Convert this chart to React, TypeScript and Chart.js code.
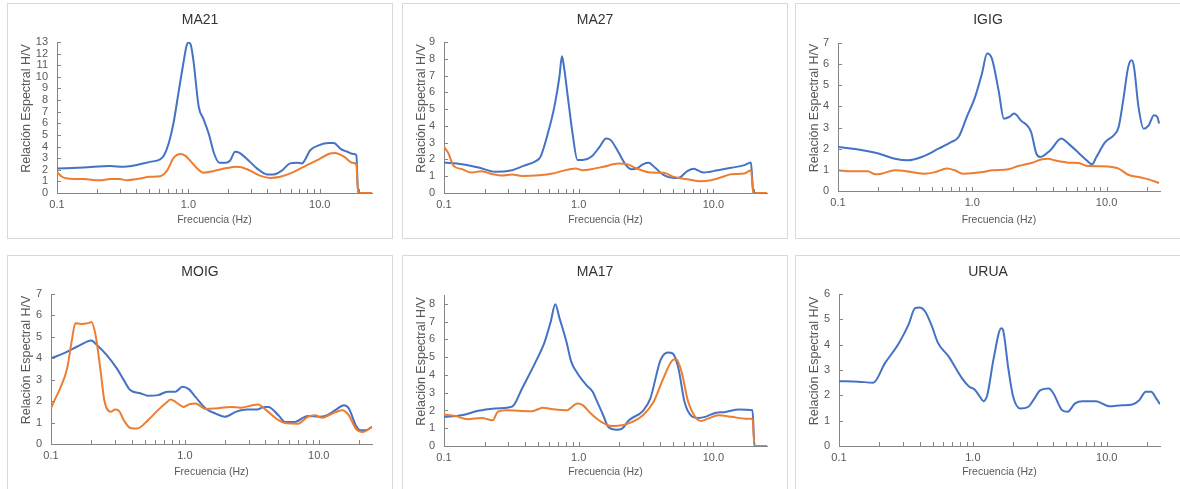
import React, { useEffect, useRef } from 'react';
import { Chart, registerables } from 'chart.js';

Chart.register(...registerables);

const BLUE = '#4472C4';
const ORANGE = '#ED7D31';
const AXIS = '#858585';
const TEXT = '#595959';
const FONT = "'Liberation Sans', Arial, sans-serif";

const X_TITLE = 'Frecuencia (Hz)';
const Y_TITLE = 'Relación Espectral H/V';
const X_MIN = 0.1;
const X_MAX = 25;
const X_TICKS = [0.1, 0.2, 0.3, 0.4, 0.5, 0.6, 0.7, 0.8, 0.9, 1, 2, 3, 4, 5, 6, 7, 8, 9, 10, 20];
const X_LABEL_VALUES = [0.1, 1, 10];
const X_LABEL_TEXT = ['0.1', '1.0', '10.0'];

// ---- MA21 ----
const MA21_BLUE_F = [0.1, 0.16, 0.255, 0.32, 0.51, 0.61, 0.65, 0.71, 0.77, 0.84, 0.92, 0.97, 1.0, 1.04, 1.09, 1.2, 1.3, 1.43, 1.57, 1.72, 1.92, 2.08, 2.27, 2.45, 2.87, 3.34, 3.98, 4.47, 5.18, 5.95, 6.7, 7.3, 8.5, 9.8, 11.7, 12.8, 14.4, 16.2, 18.2, 19.0, 19.6, 25];
const MA21_BLUE = [2.1, 2.2, 2.33, 2.25, 2.68, 2.9, 3.2, 4.3, 6.0, 8.6, 11.3, 12.7, 12.95, 12.8, 11.5, 7.4, 6.4, 5.1, 3.4, 2.6, 2.6, 2.8, 3.55, 3.45, 2.8, 2.1, 1.6, 1.6, 1.95, 2.55, 2.6, 2.55, 3.7, 4.1, 4.3, 4.3, 3.8, 3.55, 3.35, 3.25, 0, 0];
const MA21_ORANGE_F = [0.1, 0.109, 0.12, 0.16, 0.21, 0.255, 0.3, 0.34, 0.43, 0.51, 0.61, 0.69, 0.77, 0.87, 0.95, 1.03, 1.17, 1.3, 1.57, 1.97, 2.34, 2.8, 3.5, 4.2, 5.0, 6.3, 8.0, 9.5, 12.0, 13.1, 15.2, 17.7, 19.0, 19.6, 25];
const MA21_ORANGE = [1.8, 1.4, 1.25, 1.2, 1.1, 1.2, 1.2, 1.1, 1.25, 1.4, 1.45, 1.95, 3.0, 3.35, 3.2, 2.8, 2.1, 1.75, 1.9, 2.15, 2.25, 2.05, 1.5, 1.3, 1.4, 1.8, 2.4, 2.8, 3.4, 3.45, 3.15, 2.6, 2.45, 0, 0];
const MA21_Y_TICKS = [0, 1, 2, 3, 4, 5, 6, 7, 8, 9, 10, 11, 12, 13];

// ---- MA27 ----
const MA27_BLUE_F = [0.1, 0.136, 0.181, 0.241, 0.32, 0.39, 0.48, 0.52, 0.59, 0.66, 0.72, 0.75, 0.77, 0.83, 0.9, 0.98, 1.07, 1.24, 1.43, 1.6, 1.73, 1.95, 2.25, 2.47, 2.69, 3.02, 3.3, 3.7, 4.28, 5.1, 5.5, 6.4, 7.2, 7.6, 8.5, 10.8, 13.5, 17, 19, 19.8, 25];
const MA27_BLUE = [1.82, 1.72, 1.52, 1.26, 1.36, 1.62, 1.9, 2.15, 3.55, 5.15, 6.95, 8.15, 7.75, 5.75, 3.55, 1.96, 1.96, 2.16, 2.75, 3.25, 3.15, 2.5, 1.65, 1.42, 1.46, 1.72, 1.8, 1.5, 1.06, 0.9, 0.9, 1.3, 1.44, 1.36, 1.22, 1.36, 1.5, 1.66, 1.82, 0, 0];
const MA27_ORANGE_F = [0.1, 0.108, 0.117, 0.136, 0.16, 0.19, 0.23, 0.27, 0.32, 0.38, 0.51, 0.64, 0.76, 0.95, 1.07, 1.24, 1.52, 1.98, 2.28, 2.7, 3.4, 4.28, 5.1, 6.4, 8, 9.6, 12.1, 13.5, 17, 19, 19.8, 25];
const MA27_ORANGE = [2.75, 2.35, 1.65, 1.42, 1.22, 1.3, 1.12, 1.04, 1.1, 1.02, 1.06, 1.16, 1.32, 1.46, 1.36, 1.42, 1.56, 1.76, 1.72, 1.46, 1.22, 1.2, 0.96, 0.82, 0.7, 0.76, 1.0, 1.12, 1.16, 1.36, 0, 0];
const MA27_Y_TICKS = [0, 1, 2, 3, 4, 5, 6, 7, 8, 9];

// ---- IGIG ----
const IGIG_BLUE_F = [0.1, 0.141, 0.2, 0.265, 0.33, 0.42, 0.56, 0.7, 0.79, 0.91, 1.05, 1.18, 1.29, 1.4, 1.57, 1.72, 1.88, 2.05, 2.3, 2.74, 3.0, 3.2, 3.8, 4.6, 5.2, 6.2, 7.1, 7.8, 8.4, 9.8, 11.3, 12.3, 13.3, 14.5, 15.4, 16, 17.3, 18.9, 20.6, 22.5, 23.9, 24.6];
const IGIG_BLUE = [2.08, 1.96, 1.77, 1.53, 1.45, 1.61, 2.0, 2.32, 2.55, 3.5, 4.45, 5.55, 6.5, 6.26, 4.76, 3.42, 3.5, 3.66, 3.34, 2.79, 1.77, 1.61, 1.92, 2.48, 2.24, 1.8, 1.45, 1.26, 1.61, 2.32, 2.63, 3.03, 4.29, 5.87, 6.18, 5.87, 3.97, 2.95, 3.1, 3.58, 3.5, 3.19];
const IGIG_ORANGE_F = [0.1, 0.126, 0.167, 0.19, 0.21, 0.265, 0.35, 0.44, 0.52, 0.65, 0.74, 0.85, 1.03, 1.2, 1.41, 1.86, 2.2, 2.8, 3.3, 3.7, 4.1, 5.2, 6.2, 7.3, 9.2, 11, 12.3, 14.5, 17.3, 20.6, 24.6];
const IGIG_ORANGE = [0.98, 0.93, 0.93, 0.79, 0.82, 0.98, 0.9, 0.82, 0.88, 1.06, 0.98, 0.82, 0.85, 0.9, 0.98, 1.03, 1.18, 1.34, 1.5, 1.53, 1.45, 1.34, 1.32, 1.18, 1.17, 1.14, 1.06, 0.77, 0.66, 0.55, 0.38];
const IGIG_Y_TICKS = [0, 1, 2, 3, 4, 5, 6, 7];

// ---- MOIG ----
const MOIG_BLUE_F = [0.1, 0.124, 0.157, 0.186, 0.2, 0.22, 0.26, 0.31, 0.35, 0.39, 0.47, 0.53, 0.63, 0.74, 0.85, 0.96, 1.07, 1.2, 1.43, 1.7, 2.0, 2.4, 2.9, 3.5, 3.9, 4.2, 5.0, 5.6, 6.6, 8.3, 10, 11.2, 13.3, 15.4, 16.8, 18.9, 20.5, 22.4, 25];
const MOIG_BLUE = [4.0, 4.23, 4.55, 4.78, 4.83, 4.62, 4.16, 3.53, 2.98, 2.52, 2.36, 2.25, 2.28, 2.44, 2.44, 2.67, 2.56, 2.2, 1.66, 1.42, 1.27, 1.5, 1.61, 1.61, 1.73, 1.73, 1.34, 1.03, 1.03, 1.31, 1.27, 1.31, 1.58, 1.81, 1.66, 0.88, 0.64, 0.64, 0.8];
const MOIG_ORANGE_F = [0.1, 0.105, 0.117, 0.132, 0.144, 0.152, 0.167, 0.19, 0.2, 0.215, 0.235, 0.25, 0.28, 0.3, 0.32, 0.35, 0.39, 0.44, 0.53, 0.63, 0.74, 0.78, 0.85, 0.98, 1.07, 1.2, 1.43, 1.7, 2.2, 2.6, 3.2, 3.5, 4.2, 5.0, 5.6, 7.0, 8.3, 9.4, 10.6, 11.9, 15, 16.8, 18.9, 21.2, 25];
const MOIG_ORANGE = [1.66, 1.97, 2.6, 3.53, 4.94, 5.64, 5.6, 5.64, 5.69, 5.1, 3.38, 2.05, 1.5, 1.61, 1.56, 1.11, 0.75, 0.72, 1.11, 1.58, 1.97, 2.08, 1.97, 1.73, 1.84, 1.89, 1.63, 1.66, 1.73, 1.69, 1.81, 1.84, 1.5, 1.11, 0.98, 0.95, 1.27, 1.34, 1.22, 1.34, 1.58, 1.34, 0.72, 0.56, 0.8];
const MOIG_Y_TICKS = [0, 1, 2, 3, 4, 5, 6, 7];

// ---- MA17 ----
const MA17_BLUE_F = [0.1, 0.135, 0.18, 0.24, 0.3, 0.33, 0.38, 0.48, 0.56, 0.62, 0.67, 0.72, 0.81, 0.88, 0.97, 1.14, 1.27, 1.34, 1.52, 1.66, 1.92, 2.1, 2.36, 3.0, 3.4, 4.05, 4.6, 5.0, 5.5, 6.1, 6.9, 7.7, 8.7, 10.3, 12.3, 15.5, 19.5, 20.2, 25];
const MA17_BLUE = [1.64, 1.73, 1.98, 2.11, 2.17, 2.3, 3.24, 4.75, 5.88, 7.0, 7.98, 7.2, 5.88, 4.75, 4.14, 3.43, 3.05, 2.67, 1.73, 1.07, 0.92, 0.98, 1.45, 1.98, 2.67, 4.84, 5.27, 5.2, 4.37, 2.49, 1.68, 1.58, 1.64, 1.86, 1.92, 2.05, 2.01, 0, 0];
const MA17_ORANGE_F = [0.1, 0.12, 0.15, 0.19, 0.23, 0.25, 0.29, 0.36, 0.45, 0.54, 0.64, 0.81, 0.98, 1.07, 1.23, 1.47, 1.75, 2.1, 2.5, 3.0, 3.6, 4.3, 5.0, 5.3, 5.8, 6.5, 7.5, 8.1, 9.1, 10.9, 13.7, 17.2, 19.5, 20.2, 25];
const MA17_ORANGE = [1.77, 1.7, 1.51, 1.58, 1.45, 1.92, 2.01, 1.98, 1.96, 2.15, 2.07, 2.01, 2.39, 2.3, 1.83, 1.36, 1.13, 1.17, 1.36, 1.73, 2.49, 3.9, 4.84, 4.88, 4.18, 2.49, 1.54, 1.41, 1.54, 1.73, 1.64, 1.54, 1.54, 0, 0];
const MA17_Y_TICKS = [0, 1, 2, 3, 4, 5, 6, 7, 8];

// ---- URUA ----
const URUA_BLUE_F = [0.1, 0.139, 0.18, 0.22, 0.28, 0.33, 0.37, 0.4, 0.44, 0.49, 0.55, 0.66, 0.83, 0.94, 1.03, 1.13, 1.2, 1.28, 1.43, 1.63, 1.68, 1.84, 2.0, 2.26, 2.6, 2.83, 3.2, 3.7, 4.0, 4.65, 5.1, 5.8, 6.6, 8.3, 10.4, 13.0, 15.5, 17.5, 19.6, 21.5, 23.4, 25];
const URUA_BLUE = [2.56, 2.54, 2.5, 3.26, 4.06, 4.78, 5.44, 5.47, 5.31, 4.78, 4.06, 3.53, 2.67, 2.34, 2.23, 1.94, 1.77, 2.0, 3.46, 4.65, 4.58, 3.06, 1.94, 1.48, 1.55, 1.81, 2.21, 2.27, 2.07, 1.41, 1.35, 1.68, 1.77, 1.77, 1.57, 1.61, 1.64, 1.81, 2.14, 2.14, 1.88, 1.65];
const URUA_Y_TICKS = [0, 1, 2, 3, 4, 5, 6];

type Series = { f: number[]; v: number[]; color: string };
type PanelCfg = { title: string; yMax: number; yTicks: number[]; series: Series[] };

const PANELS: PanelCfg[] = [
  { title: 'MA21', yMax: 13, yTicks: MA21_Y_TICKS, series: [{ f: MA21_BLUE_F, v: MA21_BLUE, color: BLUE }, { f: MA21_ORANGE_F, v: MA21_ORANGE, color: ORANGE }] },
  { title: 'MA27', yMax: 9, yTicks: MA27_Y_TICKS, series: [{ f: MA27_BLUE_F, v: MA27_BLUE, color: BLUE }, { f: MA27_ORANGE_F, v: MA27_ORANGE, color: ORANGE }] },
  { title: 'IGIG', yMax: 7, yTicks: IGIG_Y_TICKS, series: [{ f: IGIG_BLUE_F, v: IGIG_BLUE, color: BLUE }, { f: IGIG_ORANGE_F, v: IGIG_ORANGE, color: ORANGE }] },
  { title: 'MOIG', yMax: 7, yTicks: MOIG_Y_TICKS, series: [{ f: MOIG_BLUE_F, v: MOIG_BLUE, color: BLUE }, { f: MOIG_ORANGE_F, v: MOIG_ORANGE, color: ORANGE }] },
  { title: 'MA17', yMax: 8.5, yTicks: MA17_Y_TICKS, series: [{ f: MA17_BLUE_F, v: MA17_BLUE, color: BLUE }, { f: MA17_ORANGE_F, v: MA17_ORANGE, color: ORANGE }] },
  { title: 'URUA', yMax: 6, yTicks: URUA_Y_TICKS, series: [{ f: URUA_BLUE_F, v: URUA_BLUE, color: BLUE }] },
];

// layout of each panel (page px) and its plot area (canvas px)
const PANEL_W = 386;
const PANEL_H = 236;
const CANVAS_W = PANEL_W - 2;
const CANVAS_H = PANEL_H - 2;
const BOXES = [
  { left: 7, top: 3, yWidth: 49, plotTop: 38, plotBottom: 189 },
  { left: 402, top: 3, yWidth: 41, plotTop: 38, plotBottom: 189 },
  { left: 795, top: 3, yWidth: 42, plotTop: 39, plotBottom: 187 },
  { left: 7, top: 255, yWidth: 43, plotTop: 38, plotBottom: 188 },
  { left: 402, top: 255, yWidth: 41, plotTop: 39, plotBottom: 190 },
  { left: 795, top: 255, yWidth: 43, plotTop: 38, plotBottom: 190 },
];
const RIGHT_GAP = 20;
const TICK_LEN = 4;
const Y_TITLE_X = 19;
const Y_TITLE_SHIFT = -9;
const Y_TITLE_SIZE = 12.5;

function xLabel(v: number): string {
  const i = X_LABEL_VALUES.findIndex((t) => Math.abs(t - v) < 1e-9);
  return i >= 0 ? X_LABEL_TEXT[i] : '';
}

// inward tick marks and the vertical axis title, as in the reference
const axisExtras = {
  id: 'axisExtras',
  afterDraw(chart: any) {
    const { ctx, chartArea, scales } = chart;
    ctx.save();
    ctx.strokeStyle = AXIS;
    ctx.lineWidth = 1;
    ctx.beginPath();
    for (const t of scales.x.ticks) {
      const px = Math.round(scales.x.getPixelForValue(t.value)) + 0.5;
      ctx.moveTo(px, chartArea.bottom);
      ctx.lineTo(px, chartArea.bottom - TICK_LEN);
    }
    for (const t of scales.y.ticks) {
      const py = Math.round(scales.y.getPixelForValue(t.value)) + 0.5;
      ctx.moveTo(chartArea.left, py);
      ctx.lineTo(chartArea.left + TICK_LEN, py);
    }
    ctx.stroke();

    ctx.translate(Y_TITLE_X, (chartArea.top + chartArea.bottom) / 2 + Y_TITLE_SHIFT);
    ctx.rotate(-Math.PI / 2);
    ctx.fillStyle = TEXT;
    ctx.font = `${Y_TITLE_SIZE}px ${FONT}`;
    ctx.textAlign = 'center';
    ctx.textBaseline = 'middle';
    ctx.fillText(Y_TITLE, 0, 0);
    ctx.restore();
  },
};

function Panel({ cfg, box }: { cfg: PanelCfg; box: (typeof BOXES)[number] }) {
  const ref = useRef<HTMLCanvasElement>(null);
  useEffect(() => {
    const titleSize = 14;
    const titleLine = titleSize * 1.2;
    const chart = new Chart(ref.current as HTMLCanvasElement, {
      type: 'line',
      data: {
        datasets: cfg.series.map((s) => ({
          data: s.f.map((x, j) => ({ x, y: s.v[j] })),
          borderColor: s.color,
          backgroundColor: s.color,
          borderWidth: 2,
          pointRadius: 0,
          pointHoverRadius: 0,
          cubicInterpolationMode: 'monotone' as const,
          fill: false,
          order: s.color === ORANGE ? 0 : 1,
        })),
      },
      plugins: [axisExtras],
      options: {
        responsive: false,
        animation: false,
        devicePixelRatio: 1,
        events: [],
        layout: { padding: 0 },
        plugins: {
          legend: { display: false },
          tooltip: { enabled: false },
          title: {
            display: true,
            text: cfg.title,
            color: '#333333',
            font: { family: FONT, size: titleSize, weight: 'normal' },
            padding: { top: 8, bottom: box.plotTop - 8 - titleLine },
          },
        },
        scales: {
          x: {
            type: 'logarithmic',
            min: X_MIN,
            max: X_MAX,
            afterBuildTicks: (s: any) => {
              s.ticks = X_TICKS.map((v) => ({ value: v }));
            },
            afterFit: (s: any) => {
              s.height = CANVAS_H - box.plotBottom;
            },
            ticks: {
              autoSkip: false,
              maxRotation: 0,
              minRotation: 0,
              padding: 5,
              color: TEXT,
              font: { family: FONT, size: 11 },
              callback: (v: any) => xLabel(Number(v)),
            },
            grid: { drawOnChartArea: false, drawTicks: false, color: AXIS },
            border: { display: true, color: AXIS, width: 1 },
            title: {
              display: true,
              text: X_TITLE,
              color: TEXT,
              font: { family: FONT, size: 10.5 },
              padding: { top: 0, bottom: 12 },
            },
          },
          y: {
            type: 'linear',
            min: 0,
            max: cfg.yMax,
            afterBuildTicks: (s: any) => {
              s.ticks = cfg.yTicks.map((v) => ({ value: v }));
            },
            afterFit: (s: any) => {
              s.width = box.yWidth;
            },
            ticks: {
              autoSkip: false,
              padding: 9,
              color: TEXT,
              font: { family: FONT, size: 11 },
              callback: (v: any) => String(v),
            },
            grid: { drawOnChartArea: false, drawTicks: false, color: AXIS },
            border: { display: true, color: AXIS, width: 1 },
            title: { display: false },
          },
          gap: {
            type: 'linear',
            position: 'right',
            display: true,
            grid: { display: false },
            ticks: { display: false },
            border: { display: false },
            afterFit: (s: any) => {
              s.width = RIGHT_GAP;
            },
          },
        },
      } as any,
    });
    return () => chart.destroy();
  }, [cfg, box]);

  return (
    <div
      style={{
        position: 'absolute',
        left: box.left,
        top: box.top,
        width: PANEL_W,
        height: PANEL_H,
        boxSizing: 'border-box',
        border: '1px solid #d9d9d9',
        background: '#ffffff',
      }}
    >
      <canvas ref={ref} width={CANVAS_W} height={CANVAS_H} style={{ display: 'block', width: CANVAS_W, height: CANVAS_H }} />
    </div>
  );
}

export default function App() {
  return (
    <div style={{ position: 'fixed', left: 0, top: 0, width: 1180, height: 489, overflow: 'hidden', background: '#ffffff' }}>
      {PANELS.map((p, i) => (
        <Panel key={p.title} cfg={p} box={BOXES[i]} />
      ))}
    </div>
  );
}
